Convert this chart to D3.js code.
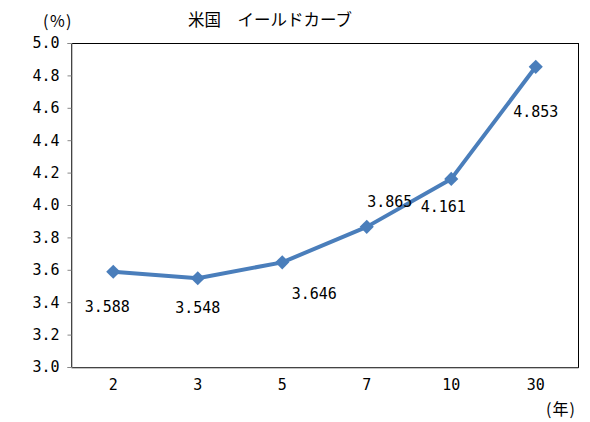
<!DOCTYPE html>
<html>
<head>
<meta charset="utf-8">
<script src="https://cdn.jsdelivr.net/npm/d3@7"></script>
<style>
  body { margin: 0; background: #fff; }
  svg text { fill: #000; }
</style>
</head>
<body>
<div id="chart"></div>
<script>
// maturities (years) and yields (%)
const maturities = ["2", "3", "5", "7", "10", "30"];
const yields = [3.588, 3.548, 3.646, 3.865, 4.161, 4.853];
const yTicks = [3.0, 3.2, 3.4, 3.6, 3.8, 4.0, 4.2, 4.4, 4.6, 4.8, 5.0];
// where each value label sits relative to its point
const labelDx = [-6, 0, 32, 23, -8, 0];
const labelDy = [35, 30, 31, -25, 28, 45];

var width = 590,
  height = 422;
var margin = { top: 43, right: 12, bottom: 55, left: 71 };

var svg = d3
  .select("#chart")
  .append("svg")
  .attr("width", width)
  .attr("height", height);

var x = d3
  .scaleBand()
  .domain(maturities)
  .range([margin.left, width - margin.right]);

var y = d3
  .scaleLinear()
  .domain([3.0, 5.0])
  .range([height - margin.bottom, margin.top]);

var monoFont = "'DejaVu Sans Mono', monospace";
var cjkFont = "'Noto Sans CJK JP', sans-serif";

// plot frame
svg
  .append("rect")
  .attr("x", margin.left + 0.5)
  .attr("y", margin.top + 0.5)
  .attr("width", width - margin.right - margin.left)
  .attr("height", height - margin.bottom - margin.top)
  .attr("fill", "none")
  .attr("stroke", "#000");

/* ------- Y AXIS -------*/
var yAxis = svg
  .append("g")
  .attr("transform", "translate(" + (margin.left + 0.5) + ",0)")
  .call(
    d3
      .axisLeft(y)
      .tickValues(yTicks)
      .tickSize(4)
      .tickPadding(8)
      .tickFormat(d3.format(".1f"))
  );
yAxis.select(".domain").attr("stroke", "#888");
yAxis.selectAll(".tick line").attr("stroke", "#888");
yAxis
  .selectAll("text")
  .attr("font-family", monoFont)
  .attr("font-size", 15)
  .attr("fill", "#000");

/* ------- X AXIS -------*/
var xAxis = svg
  .append("g")
  .attr("transform", "translate(0," + (height - margin.bottom + 0.5) + ")")
  .call(d3.axisBottom(x).tickSize(0).tickPadding(12));
xAxis.select(".domain").attr("stroke", "#888");
xAxis
  .selectAll("text")
  .attr("font-family", monoFont)
  .attr("font-size", 15)
  .attr("fill", "#000");

/* ------- LINE + MARKERS -------*/
var cx = function(d, i) {
  return x(maturities[i]) + x.bandwidth() / 2;
};

var line = d3
  .line()
  .x(cx)
  .y(function(d) {
    return y(d);
  });

svg
  .append("path")
  .datum(yields)
  .attr("d", line)
  .attr("fill", "none")
  .attr("stroke", "#4a7ebb")
  .attr("stroke-width", 4)
  .attr("stroke-linejoin", "round");

svg
  .append("g")
  .selectAll("path")
  .data(yields)
  .enter()
  .append("path")
  .attr("d", d3.symbol().type(d3.symbolSquare).size(100))
  .attr("transform", function(d, i) {
    return "translate(" + cx(d, i) + "," + y(d) + ") rotate(45)";
  })
  .attr("fill", "#4a7ebb");

/* ------- VALUE LABELS -------*/
svg
  .append("g")
  .selectAll("text")
  .data(yields)
  .enter()
  .append("text")
  .attr("x", function(d, i) {
    return cx(d, i) + labelDx[i];
  })
  .attr("y", function(d, i) {
    return y(d) + labelDy[i];
  })
  .attr("dy", "0.35em")
  .attr("text-anchor", "middle")
  .attr("font-family", monoFont)
  .attr("font-size", 15)
  .text(function(d) {
    return d.toFixed(3);
  });

/* ------- TITLES -------*/
svg
  .append("text")
  .attr("x", 188)
  .attr("y", 26)
  .attr("font-family", cjkFont)
  .attr("font-size", 16.5)
  .text("米国　イールドカーブ");

svg
  .append("text")
  .attr("x", 58)
  .attr("y", 27)
  .attr("text-anchor", "middle")
  .attr("font-family", cjkFont)
  .attr("font-size", 16)
  .attr("letter-spacing", 1.5)
  .text("(%)");

svg
  .append("text")
  .attr("x", 561)
  .attr("y", 415)
  .attr("text-anchor", "middle")
  .attr("font-family", cjkFont)
  .attr("font-size", 16)
  .attr("letter-spacing", 1)
  .text("(年)");
</script>
</body>
</html>
